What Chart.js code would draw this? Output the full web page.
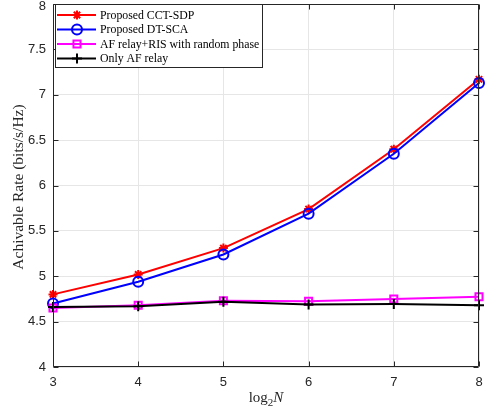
<!DOCTYPE html>
<html><head><meta charset="utf-8">
<script src="https://cdn.jsdelivr.net/npm/chart.js@4.4.0/dist/chart.umd.min.js"></script>
<style>html,body{margin:0;padding:0;background:#fff}</style>
</head><body>
<canvas id="c" width="490" height="415" style="width:490px;height:415px;display:block"></canvas>
<script>
const xValues = [3, 4, 5, 6, 7, 8];
const cctSdp = [4.80, 5.02, 5.31, 5.74, 6.40, 7.17];
const dtSca = [4.70, 4.94, 5.24, 5.69, 6.35, 7.13];
const randomPhase = [4.65, 4.68, 4.73, 4.725, 4.75, 4.775];
const onlyAf = [4.66, 4.67, 4.72, 4.69, 4.695, 4.68];
const seriesLabels = ['Proposed CCT-SDP', 'Proposed DT-SCA', 'AF relay+RIS with random phase', 'Only AF relay'];
const yTicks = [4, 4.5, 5, 5.5, 6, 6.5, 7, 7.5, 8];
const xTicks = [3, 4, 5, 6, 7, 8];
const yTitle = 'Achivable Rate (bits/s/Hz)';

const toPts = arr => arr.map((v, i) => ({x: xValues[i], y: v}));
const AX = '#262626';
const SERIF = '"Liberation Serif", "Times New Roman", serif';
const SANS = '"Liberation Sans", Arial, Helvetica, sans-serif';
const AREA = {left: 53, right: 479, top: 4, bottom: 367};

const styles = [
  {color: '#ff0000', pointStyle: 'star', radius: 4.5, order: 4},
  {color: '#0000ff', pointStyle: 'circle', radius: 5, order: 3},
  {color: '#ff00ff', pointStyle: 'rect', radius: 5, order: 2},
  {color: '#000000', pointStyle: 'cross', radius: 5, order: 1}
];
const seriesData = [cctSdp, dtSca, randomPhase, onlyAf];

const datasets = seriesData.map((d, i) => ({
  label: seriesLabels[i],
  data: toPts(d),
  borderColor: styles[i].color,
  backgroundColor: 'rgba(0,0,0,0)',
  pointBorderColor: styles[i].color,
  pointBackgroundColor: styles[i].pointStyle === 'star' ? styles[i].color : 'rgba(0,0,0,0)',
  pointStyle: styles[i].pointStyle,
  pointRadius: styles[i].radius,
  pointBorderWidth: 2,
  borderWidth: 2,
  tension: 0,
  clip: false,
  order: styles[i].order
}));

const areaPlugin = {
  id: 'fixArea',
  afterLayout(chart) {
    const a = chart.chartArea;
    a.left = AREA.left; a.right = AREA.right; a.top = AREA.top; a.bottom = AREA.bottom;
    a.width = AREA.right - AREA.left; a.height = AREA.bottom - AREA.top;
    const xs = chart.scales.x, ys = chart.scales.y;
    xs.left = AREA.left; xs.right = AREA.right; xs.width = a.width;
    xs.top = AREA.bottom; xs.bottom = 415; xs.height = 415 - AREA.bottom;
    xs.configure();
    ys.top = AREA.top; ys.bottom = AREA.bottom; ys.height = a.height;
    ys.left = 0; ys.right = AREA.left; ys.width = AREA.left;
    ys.configure();
  }
};

const framePlugin = {
  id: 'frame',
  afterDraw(chart) {
    const ctx = chart.ctx;
    const a = chart.chartArea;
    const xs = chart.scales.x, ys = chart.scales.y;
    const L = Math.round(a.left) + 0.5, R = Math.round(a.right) - 0.5;
    const T = Math.round(a.top) + 0.5, B = Math.round(a.bottom) - 0.5;
    ctx.save();
    ctx.strokeStyle = AX;
    ctx.lineWidth = 1;
    ctx.beginPath();
    ctx.rect(L, T, R - L, B - T);
    ctx.stroke();
    // inward ticks
    ctx.beginPath();
    const tl = 5;
    xTicks.forEach(v => {
      const px = Math.round(xs.getPixelForValue(v)) + 0.5;
      ctx.moveTo(px, B); ctx.lineTo(px, B - tl);
      ctx.moveTo(px, T); ctx.lineTo(px, T + tl);
    });
    yTicks.forEach(v => {
      const py = Math.round(ys.getPixelForValue(v)) + 0.5;
      ctx.moveTo(L, py); ctx.lineTo(L + tl, py);
      ctx.moveTo(R, py); ctx.lineTo(R - tl, py);
    });
    ctx.stroke();

    // y tick labels
    ctx.fillStyle = AX;
    ctx.font = '13px ' + SANS;
    ctx.textAlign = 'right';
    ctx.textBaseline = 'middle';
    yTicks.forEach(v => {
      const py = Math.max(ys.getPixelForValue(v), 6);
      ctx.fillText(String(v), 46, py);
    });

    // legend
    const lx = 55.5, ly = 4.5, lw = 207, lh = 63;
    ctx.fillStyle = '#ffffff';
    ctx.fillRect(lx, ly, lw, lh);
    ctx.strokeStyle = AX;
    ctx.strokeRect(lx, ly, lw, lh);
    const rows = [15, 29.5, 44, 58.5];
    chart.data.datasets.forEach((ds, i) => {
      const y = rows[i];
      ctx.strokeStyle = ds.borderColor;
      ctx.lineWidth = 2;
      ctx.beginPath();
      ctx.moveTo(57, y); ctx.lineTo(96, y);
      ctx.stroke();
      ctx.fillStyle = ds.pointBackgroundColor;
      ctx.strokeStyle = ds.pointBorderColor;
      ctx.lineWidth = 2;
      Chart.helpers.drawPoint(ctx, {pointStyle: ds.pointStyle, radius: ds.pointRadius, rotation: 0, borderWidth: 2}, 77, y);
      ctx.fillStyle = '#000';
      ctx.font = '11.8px ' + SERIF;
      ctx.textAlign = 'left';
      ctx.textBaseline = 'middle';
      ctx.fillText(ds.label, 100, y + 0.5);
    });

    // x title: log_2 N
    ctx.fillStyle = AX;
    ctx.textBaseline = 'alphabetic';
    ctx.textAlign = 'left';
    const f1 = '15px ' + SERIF, f2 = '11px ' + SERIF, f3 = 'italic 15px ' + SERIF;
    ctx.font = f1; const w1 = ctx.measureText('log').width;
    ctx.font = f2; const w2 = ctx.measureText('2').width;
    ctx.font = f3; const w3 = ctx.measureText('N').width;
    const cx = (a.left + a.right) / 2;
    let x0 = cx - (w1 + w2 + w3) / 2;
    const base = 402;
    ctx.font = f1; ctx.fillText('log', x0, base); x0 += w1;
    ctx.font = f2; ctx.fillText('2', x0, base + 4); x0 += w2;
    ctx.font = f3; ctx.fillText('N', x0, base);

    // y title
    ctx.save();
    ctx.translate(19, 187);
    ctx.rotate(-Math.PI / 2);
    ctx.font = '15.5px ' + SERIF;
    ctx.textAlign = 'center';
    ctx.textBaseline = 'middle';
    ctx.fillText(yTitle, 0, 0);
    ctx.restore();
    ctx.restore();
  }
};

new Chart(document.getElementById('c'), {
  type: 'line',
  data: {datasets},
  options: {
    responsive: false,
    animation: false,
    layout: {padding: {top: 4, right: 11, left: 0, bottom: 0}},
    plugins: {legend: {display: false}, tooltip: {enabled: false}},
    scales: {
      x: {
        type: 'linear', min: 3, max: 8,
        afterBuildTicks: s => { s.ticks = xTicks.map(v => ({value: v})); },
        afterFit: s => { s.height = 48; s.paddingLeft = 0; s.paddingRight = 0; },
        grid: {color: '#e6e6e6', lineWidth: 1, drawTicks: false},
        border: {display: false},
        ticks: {color: AX, font: {family: SANS, size: 13}, padding: 8, maxRotation: 0,
                callback: v => String(v)}
      },
      y: {
        type: 'linear', min: 4, max: 8,
        afterBuildTicks: s => { s.ticks = yTicks.map(v => ({value: v})); },
        afterFit: s => { s.width = 53; s.paddingTop = 0; s.paddingBottom = 0; },
        grid: {color: '#e6e6e6', lineWidth: 1, drawTicks: false},
        border: {display: false},
        ticks: {display: false}
      }
    }
  },
  plugins: [areaPlugin, framePlugin]
});
</script>
</body></html>
